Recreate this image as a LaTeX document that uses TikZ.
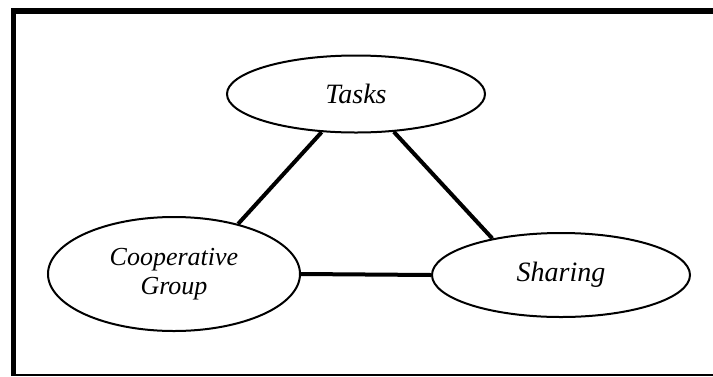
\documentclass[tikz,border=0pt]{standalone}
\usepackage{fontspec}
\setmainfont{Liberation Serif}
\usetikzlibrary{shapes.geometric}
\begin{document}
\begin{tikzpicture}[x=1pt,y=-1pt,
  oval/.style={draw,ellipse,line width=2pt,inner sep=0pt,align=center,font=\itshape\fontsize{28}{30}\selectfont},
  link/.style={line width=4pt}]
\useasboundingbox (0,0) rectangle (713,376);
\draw[line width=6pt] (713,11) -- (13.5,11);
\draw[line width=5pt] (13.5,8) -- (13.5,376);
\draw[line width=2pt] (11,375) -- (713,375);
\node[oval,minimum width=258pt,minimum height=77pt] (tasks) at (356,94) {Tasks};
\node[oval,minimum width=252pt,minimum height=114pt,font=\itshape\fontsize{26}{29}\selectfont] (coop) at (174,274) {Cooperative\\Group};
\node[oval,minimum width=258pt,minimum height=84pt] (share) at (561,275) {Sharing};
\draw[link] (tasks.-132) -- (coop.38);
\draw[link] (tasks.-45) -- (share.152);
\draw[link] (coop.east) -- (share.west);
\end{tikzpicture}
\end{document}
